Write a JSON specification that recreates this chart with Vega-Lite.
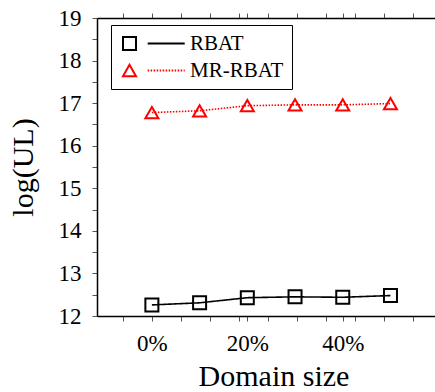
{
  "$schema": "https://vega.github.io/schema/vega-lite/v6.json",
  "autosize": {"type": "none"},
  "width": 338,
  "height": 298,
  "padding": {"left": 97, "top": 18, "right": 0, "bottom": 76},
  "background": "white",
  "config": {"view": {"stroke": null}, "font": "Liberation Serif"},
  "data": {"values": [
    {"size": 0, "series": "RBAT", "ul": 12.26},
    {"size": 10, "series": "RBAT", "ul": 12.31},
    {"size": 20, "series": "RBAT", "ul": 12.43},
    {"size": 30, "series": "RBAT", "ul": 12.45},
    {"size": 40, "series": "RBAT", "ul": 12.44},
    {"size": 50, "series": "RBAT", "ul": 12.48},
    {"size": 0, "series": "MR-RBAT", "ul": 16.78},
    {"size": 10, "series": "MR-RBAT", "ul": 16.82},
    {"size": 20, "series": "MR-RBAT", "ul": 16.94},
    {"size": 30, "series": "MR-RBAT", "ul": 16.96},
    {"size": 40, "series": "MR-RBAT", "ul": 16.96},
    {"size": 50, "series": "MR-RBAT", "ul": 16.99}
  ]},
  "resolve": {"axis": {"x": "independent", "y": "independent"}},
  "layer": [
    {
      "mark": {"type": "line", "strokeWidth": 1.6},
      "encoding": {
        "x": {"field": "size", "type": "quantitative",
          "scale": {"domain": [-11.5, 59.33], "nice": false, "zero": false},
          "axis": {"orient": "bottom",
            "values": [-6.07, 0, 6.07, 12.14, 18.21, 20, 24.28, 30.35, 36.42, 40, 42.49, 48.56, 54.63],
            "labelExpr": "(datum.value == 0 || datum.value == 20 || datum.value == 40) ? datum.value + '%' : ''",
            "labelFont": "Liberation Serif", "labelFontSize": 23, "labelColor": "black",
            "labelPadding": 11, "labelOverlap": false, "labelFlush": false, "labelBound": false,
            "ticks": true, "tickSize": 5, "tickColor": "#555", "tickWidth": 1,
            "encode": {"ticks": {"y2": {"condition": {"test": "datum.value == 0 || datum.value == 20 || datum.value == 40", "value": -5}, "value": -2.5}}},
            "domainColor": "black", "domainWidth": 1.5, "grid": false,
            "title": "Domain size", "titleFont": "Liberation Serif", "titleFontSize": 30,
            "titleFontWeight": "normal", "titleColor": "black", "titlePadding": 6, "titleX": 176.5}},
        "y": {"field": "ul", "type": "quantitative",
          "scale": {"domain": [12, 19], "nice": false, "zero": false},
          "axis": {"orient": "left",
            "values": [12, 12.5, 13, 13.5, 14, 14.5, 15, 15.5, 16, 16.5, 17, 17.5, 18, 18.5, 19],
            "labelExpr": "datum.value % 1 == 0 ? datum.value : ''",
            "labelFont": "Liberation Serif", "labelFontSize": 23, "labelColor": "black",
            "labelPadding": 11, "labelOverlap": false, "labelFlush": false, "labelBound": false,
            "ticks": true, "tickSize": 5, "tickColor": "#555", "tickWidth": 1,
            "encode": {"ticks": {"x2": {"condition": {"test": "datum.value % 1 == 0", "value": 4}, "value": 3}}},
            "domainColor": "black", "domainWidth": 1.5, "grid": false,
            "title": "log(UL)", "titleFont": "Liberation Serif", "titleFontSize": 30,
            "titleFontWeight": "normal", "titleColor": "black", "titlePadding": 20}},
        "stroke": {"field": "series", "type": "nominal",
          "scale": {"domain": ["RBAT", "MR-RBAT"], "range": ["black", "#ff0000"]},
          "legend": {
            "title": null, "orient": "none", "legendX": 50.7, "legendY": 7,
            "padding": 8, "strokeColor": "transparent", "fillColor": "transparent",
            "symbolType": "M-2.85,0H2.85", "symbolSize": 169, "symbolStrokeWidth": 1.8,
            "labelOffset": 50, "labelFont": "Liberation Serif", "labelFontSize": 21,
            "labelColor": "transparent", "rowPadding": 5, "zindex": 2}},
        "strokeDash": {"field": "series", "type": "nominal",
          "scale": {"domain": ["RBAT", "MR-RBAT"], "range": [[1, 0], [1.5, 1.5]]}}
      }
    },
    {
      "mark": {"type": "point", "filled": false, "size": 169, "strokeWidth": 2, "opacity": 1},
      "encoding": {
        "x": {"field": "size", "type": "quantitative",
          "scale": {"domain": [-11.5, 59.33], "nice": false, "zero": false},
          "axis": {"orient": "top",
            "values": [-6.07, 0, 6.07, 12.14, 18.21, 20, 24.28, 30.35, 36.42, 40, 42.49, 48.56, 54.63],
            "labels": false, "ticks": true, "tickSize": 5, "tickColor": "#555", "tickWidth": 1,
            "encode": {"ticks": {"y2": {"condition": {"test": "datum.value == 0 || datum.value == 20 || datum.value == 40", "value": 5}, "value": 2.5}}},
            "domainColor": "black", "domainWidth": 1.5, "grid": false, "title": null}},
        "y": {"field": "ul", "type": "quantitative",
          "scale": {"domain": [12, 19], "nice": false, "zero": false}, "axis": null},
        "color": {"field": "series", "type": "nominal", "sort": "descending",
          "scale": {"range": ["black", "#ff0000"]}},
        "shape": {"field": "series", "type": "nominal", "sort": "descending",
          "scale": {"range": ["square", "triangle-up"]},
          "legend": {
            "title": null, "orient": "none", "legendX": 14, "legendY": 7,
            "padding": 8, "strokeColor": "black", "fillColor": "white",
            "symbolSize": 169, "symbolStrokeWidth": 2, "symbolOpacity": 1, "labelOffset": 50,
            "labelFont": "Liberation Serif", "labelFontSize": 21, "labelColor": "black",
            "rowPadding": 5, "zindex": 1}}
      }
    }
  ]
}
